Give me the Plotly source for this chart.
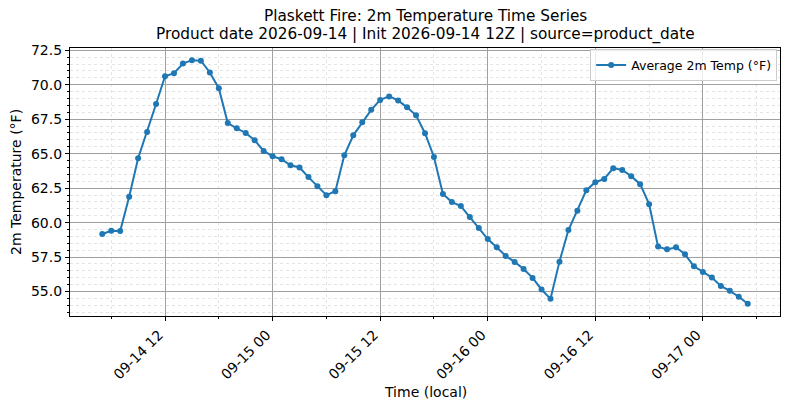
import pandas as pd
import plotly.graph_objects as go

# hourly local times, 2026-09-14 05:00 .. 2026-09-17 05:00
start_time = "2026-09-14 05:00"
n_hours = 73

temp_f = [
    59.17, 59.41, 59.40, 61.87, 64.67, 66.57, 68.60, 70.62, 70.84, 71.54,
    71.78, 71.74, 70.89, 69.75, 67.22, 66.84, 66.50, 65.97, 65.20, 64.81,
    64.60, 64.16, 64.00, 63.30, 62.64, 61.99, 62.28, 64.88, 66.33, 67.27,
    68.18, 68.90, 69.15, 68.86, 68.36, 67.78, 66.48, 64.76, 62.07, 61.49,
    61.20, 60.40, 59.61, 58.81, 58.21, 57.58, 57.15, 56.64, 55.99, 55.15,
    54.47, 57.17, 59.46, 60.86, 62.35, 62.93, 63.17, 63.95, 63.82, 63.37,
    62.79, 61.34, 58.26, 58.06, 58.21, 57.70, 56.83, 56.42, 56.01, 55.41,
    55.05, 54.62, 54.11,
]

times = pd.date_range(start_time, periods=n_hours, freq="h")

title_lines = [
    "Plaskett Fire: 2m Temperature Time Series",
    "Product date 2026-09-14 | Init 2026-09-14 12Z | source=product_date",
]

font = "DejaVu Sans"
blue = "#1f77b4"

fig = go.Figure()
fig.add_trace(go.Scatter(
    x=times, y=temp_f, mode="lines+markers",
    name="Average 2m Temp (°F)",
    line=dict(color=blue, width=2),
    marker=dict(color=blue, size=6),
))

# matplotlib style 5% margins
span = times[-1] - times[0]
x_range = [times[0] - span * 0.05, times[-1] + span * 0.05]
ypad = (max(temp_f) - min(temp_f)) * 0.05
y_range = [min(temp_f) - ypad, max(temp_f) + ypad]

fig.update_layout(
    width=790, height=409,
    margin=dict(l=70, r=10, t=48, b=93),
    paper_bgcolor="white", plot_bgcolor="white",
    font=dict(family=font, size=14, color="black"),
    showlegend=True,
    legend=dict(
        x=0.996, y=0.995, xanchor="right", yanchor="top",
        bgcolor="rgba(255,255,255,0.8)", bordercolor="#cccccc", borderwidth=1,
        font=dict(size=12.5),
    ),
)

# two-line title, placed by hand above the plot area
for line, shift in zip(title_lines, [32, 14]):
    fig.add_annotation(text=line, xref="paper", yref="paper", x=0.5, y=1,
                       xanchor="center", yanchor="middle", yshift=shift,
                       showarrow=False, font=dict(size=15.3))

# axis titles
fig.add_annotation(text="Time (local)", xref="paper", yref="paper", x=0.5, y=0,
                   xanchor="center", yanchor="middle", yshift=-76,
                   showarrow=False, font=dict(size=14))
fig.add_annotation(text="2m Temperature (°F)", xref="paper", yref="paper", x=0, y=0.5,
                   xanchor="center", yanchor="middle", xshift=-54, textangle=-90,
                   showarrow=False, font=dict(size=14))

fig.update_xaxes(
    range=x_range, automargin=False,
    dtick=12 * 3600 * 1000, tick0="2026-09-14 00:00",
    tickformat="%m-%d %H", tickangle=-45,
    ticklabelshift=-6,
    ticks="outside", ticklen=4, tickcolor="black",
    showline=True, linecolor="black", linewidth=1.2, mirror=True,
    showgrid=True, gridcolor="#a0a0a0", gridwidth=1,
    zeroline=False,
    minor=dict(dtick=6 * 3600 * 1000, tick0="2026-09-14 00:00",
               ticks="outside", ticklen=2, tickcolor="black",
               showgrid=True, gridcolor="#e4e4e4", griddash="dot", gridwidth=0.8),
)

fig.update_yaxes(
    range=y_range, automargin=False,
    dtick=2.5, tick0=55, tickformat=".1f",
    ticks="outside", ticklen=4, tickcolor="black",
    showline=True, linecolor="black", linewidth=1.2, mirror=True,
    showgrid=True, gridcolor="#a0a0a0", gridwidth=1,
    zeroline=False,
    minor=dict(dtick=0.5, tick0=55, ticks="outside", ticklen=2, tickcolor="black",
               showgrid=True, gridcolor="#e4e4e4", griddash="dot", gridwidth=0.8),
)

# drop the default page margin so the figure sits at the window's corner
fig.write_html("out.html", config={"displayModeBar": False},
               post_script="document.body.style.margin='0';")
